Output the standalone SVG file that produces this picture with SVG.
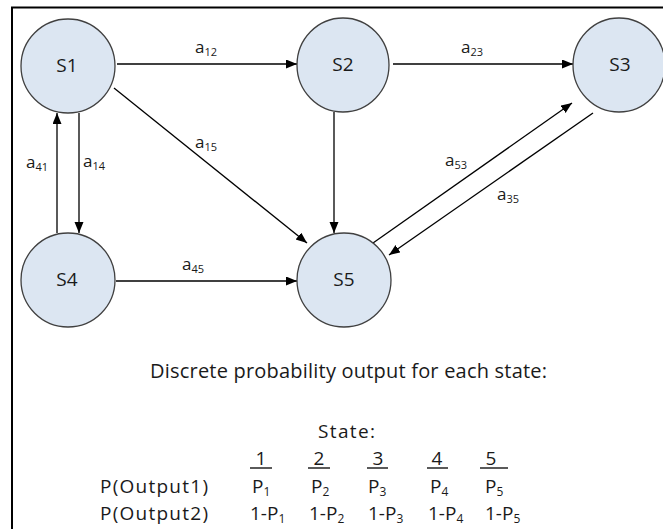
<svg xmlns="http://www.w3.org/2000/svg" width="663" height="529" viewBox="0 0 663 529">
<style>
  .node ellipse { fill: #dce6f2; stroke: #404040; stroke-width: 1.3; }
  .node text { font-family: "Open Sans", "Liberation Sans", sans-serif; font-size: 19px; fill: #1a1a1a; text-anchor: middle; }
  .edge { stroke: #000; stroke-width: 1.3; fill: none; marker-end: url(#arrow); }
  .lbl { font-family: "Open Sans", "Liberation Sans", sans-serif; font-size: 17px; fill: #1a1a1a; }
  .sub { font-size: 11px; }
  .txt { font-family: "Open Sans", "Liberation Sans", sans-serif; font-size: 19px; fill: #1a1a1a; }
  .title { font-size: 20px; }
  .tsub { font-size: 12px; }
  .uline { stroke: #000; stroke-width: 1.3; }
</style>
<defs>
  <marker id="arrow" markerUnits="userSpaceOnUse" markerWidth="12" markerHeight="10" refX="11" refY="4.5" orient="auto">
    <path d="M0,0 L11,4.5 L0,9 z" fill="#000"/>
  </marker>
</defs>
<rect width="663" height="529" fill="#fff"/>
<path d="M12,529 L12,7.5 L663,7.5" fill="none" stroke="#000" stroke-width="2"/>

<g id="connectors">
  <line class="edge" x1="117" y1="64" x2="297" y2="64"/>
  <line class="edge" x1="393" y1="64" x2="573" y2="64"/>
  <line class="edge" x1="79" y1="113" x2="79" y2="233"/>
  <line class="edge" x1="57" y1="233" x2="57" y2="113"/>
  <line class="edge" x1="114" y1="88" x2="307" y2="243"/>
  <line class="edge" x1="334" y1="112" x2="334" y2="233"/>
  <line class="edge" x1="116" y1="281" x2="297" y2="281"/>
  <line class="edge" x1="373" y1="243" x2="572" y2="103"/>
  <line class="edge" x1="593" y1="113" x2="389" y2="255"/>
  <text class="lbl" x="195" y="53">a<tspan class="sub" dy="3">12</tspan></text>
  <text class="lbl" x="461" y="53">a<tspan class="sub" dy="3">23</tspan></text>
  <text class="lbl" x="195" y="148">a<tspan class="sub" dy="3">15</tspan></text>
  <text class="lbl" x="26" y="168">a<tspan class="sub" dy="3">41</tspan></text>
  <text class="lbl" x="83" y="167">a<tspan class="sub" dy="3">14</tspan></text>
  <text class="lbl" x="445" y="166">a<tspan class="sub" dy="3">53</tspan></text>
  <text class="lbl" x="497" y="200">a<tspan class="sub" dy="3">35</tspan></text>
  <text class="lbl" x="182" y="270">a<tspan class="sub" dy="3">45</tspan></text>
</g>

<g id="S1" class="node"><ellipse cx="68" cy="66" rx="47" ry="47"/><text x="67" y="72">S1</text></g>
<g id="S2" class="node"><ellipse cx="343" cy="65" rx="46" ry="47"/><text x="343" y="71">S2</text></g>
<g id="S3" class="node"><ellipse cx="619" cy="65" rx="46" ry="47"/><text x="620" y="71">S3</text></g>
<g id="S4" class="node"><ellipse cx="68" cy="280" rx="47" ry="47"/><text x="67" y="286">S4</text></g>
<g id="S5" class="node"><ellipse cx="344" cy="280" rx="47" ry="47"/><text x="344" y="286">S5</text></g>

<g id="table">
  <text class="txt title" x="150" y="378" textLength="397">Discrete probability output for each state:</text>
  <text class="txt" x="318" y="438" textLength="57">State:</text>
  <text class="txt" x="261" y="465" text-anchor="middle">1</text>
  <text class="txt" x="319" y="465" text-anchor="middle">2</text>
  <text class="txt" x="378" y="465" text-anchor="middle">3</text>
  <text class="txt" x="437" y="465" text-anchor="middle">4</text>
  <text class="txt" x="491" y="465" text-anchor="middle">5</text>
  <line class="uline" x1="250" y1="468" x2="272" y2="468"/>
  <line class="uline" x1="308" y1="468" x2="330" y2="468"/>
  <line class="uline" x1="367" y1="468" x2="388" y2="468"/>
  <line class="uline" x1="427" y1="468" x2="448" y2="468"/>
  <line class="uline" x1="480" y1="468" x2="508" y2="468"/>
  <text class="txt" x="100" y="493" textLength="108">P(Output1)</text>
  <text class="txt" x="100" y="520" textLength="108">P(Output2)</text>
  <text class="txt" x="252" y="493">P<tspan class="tsub" dy="3">1</tspan></text>
  <text class="txt" x="311" y="493">P<tspan class="tsub" dy="3">2</tspan></text>
  <text class="txt" x="368" y="493">P<tspan class="tsub" dy="3">3</tspan></text>
  <text class="txt" x="430" y="493">P<tspan class="tsub" dy="3">4</tspan></text>
  <text class="txt" x="485" y="493">P<tspan class="tsub" dy="3">5</tspan></text>
  <text class="txt" x="250" y="520">1-P<tspan class="tsub" dy="3">1</tspan></text>
  <text class="txt" x="309" y="520">1-P<tspan class="tsub" dy="3">2</tspan></text>
  <text class="txt" x="368" y="520">1-P<tspan class="tsub" dy="3">3</tspan></text>
  <text class="txt" x="428" y="520">1-P<tspan class="tsub" dy="3">4</tspan></text>
  <text class="txt" x="485" y="520">1-P<tspan class="tsub" dy="3">5</tspan></text>
</g>
</svg>
